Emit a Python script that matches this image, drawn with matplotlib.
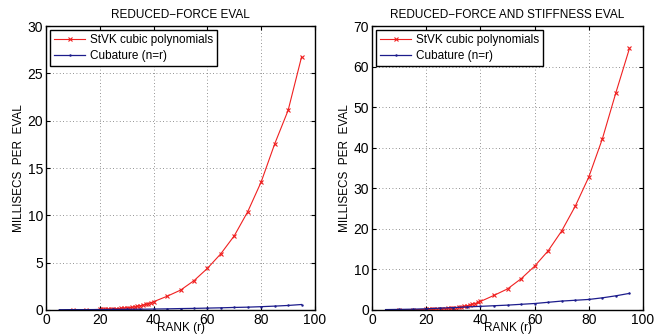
import numpy as np
import matplotlib
matplotlib.use('Agg')
import matplotlib.pyplot as plt

plt.rcParams['font.family'] = ['Liberation Sans', 'DejaVu Sans']

# ranks where the StVK polynomials were timed
rank_stvk = [10, 15, 20, 21, 22, 23, 24, 25, 26, 27, 28, 29, 30, 31, 32, 33, 34, 35,
             36, 37, 38, 39, 40, 45, 50, 55, 60, 65, 70, 75, 80, 85, 90, 95]
force_stvk = [0.02, 0.03, 0.06, 0.07, 0.08, 0.09, 0.10, 0.11, 0.13, 0.15, 0.17, 0.19,
              0.22, 0.25, 0.28, 0.32, 0.38, 0.45, 0.52, 0.60, 0.68, 0.78, 0.88,
              1.45, 2.1, 3.1, 4.4, 5.95, 7.85, 10.4, 13.55, 17.55, 21.1, 26.75]
stiff_stvk = [0.05, 0.08, 0.15, 0.17, 0.19, 0.21, 0.24, 0.27, 0.30, 0.34, 0.38, 0.43,
              0.50, 0.57, 0.65, 0.75, 0.90, 1.05, 1.2, 1.4, 1.6, 1.85, 2.1,
              3.6, 5.2, 7.7, 10.8, 14.6, 19.5, 25.6, 32.8, 42.2, 53.6, 64.5]

# cubature timings
rank_cub = [5, 10, 15, 20, 25, 30, 35, 40, 45, 50, 55, 60, 65, 70, 75, 80, 85, 90, 95]
force_cub = [0.03, 0.04, 0.04, 0.05, 0.06, 0.07, 0.08, 0.10, 0.12, 0.15, 0.17, 0.20,
             0.23, 0.27, 0.30, 0.35, 0.41, 0.48, 0.58]
stiff_cub = [0.10, 0.15, 0.20, 0.30, 0.45, 0.60, 0.75, 0.90, 1.05, 1.20, 1.40, 1.60,
             1.90, 2.20, 2.40, 2.60, 3.00, 3.50, 4.10]

titles = ['REDUCED\u2212FORCE EVAL', 'REDUCED\u2212FORCE AND STIFFNESS EVAL']
ymaxes = [30, 70]
red = '#f02020'
blue = '#1c1c8c'

fig = plt.figure(figsize=(6.71, 3.36), dpi=100)
positions = [[0.0686, 0.0774, 0.4009, 0.845], [0.5544, 0.0774, 0.4039, 0.845]]
for i, (s, c) in enumerate([(force_stvk, force_cub), (stiff_stvk, stiff_cub)]):
    ax = fig.add_axes(positions[i])
    ax.plot(rank_stvk, s, color=red, marker='x', markersize=3.5, linewidth=0.8,
            markeredgewidth=0.8, label='StVK cubic polynomials')
    ax.plot(rank_cub, c, color=blue, marker='.', markersize=1.5, linewidth=0.9,
            label='Cubature (n=r)')
    ax.set_xlim(0, 100)
    ax.set_ylim(0, ymaxes[i])
    ax.grid(True, linestyle=(0, (1, 3)), color='#707070', linewidth=0.6)
    ax.tick_params(direction='in', top=True, right=True, labelsize=10, length=3,
                   pad=2)
    for sp in ax.spines.values():
        sp.set_linewidth(1.0)
    ax.set_title(titles[i], fontsize=8.5, pad=6)
    ax.set_ylabel('MILLISECS  PER  EVAL', fontsize=8.5, labelpad=2)
    ax.set_xlabel('RANK (r)', fontsize=8.5, va='bottom')
    # keep the axis label just inside the bottom edge of the figure
    ax.xaxis.set_label_coords(0.5, -0.086)
    leg = ax.legend(loc='upper left', fontsize=8.5, fancybox=False, framealpha=1,
                    edgecolor='black', borderaxespad=0.35, handlelength=2.6,
                    borderpad=0.35, labelspacing=0.3, handletextpad=0.4)
    leg.get_frame().set_linewidth(1.0)

fig.savefig('out.png', dpi=100)
